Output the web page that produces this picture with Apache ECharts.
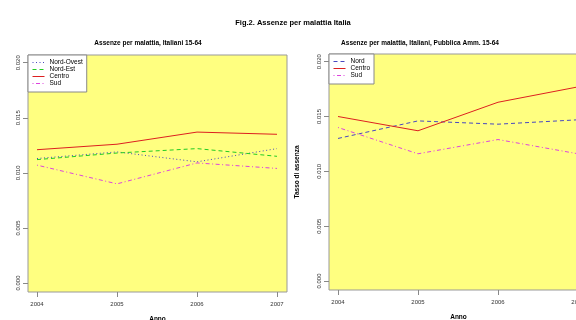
<!DOCTYPE html>
<html>
<head>
<meta charset="utf-8">
<script src="https://cdn.jsdelivr.net/npm/echarts@6/dist/echarts.min.js"></script>
<style>html,body{margin:0;padding:0;background:#fff}#c{width:576px;height:320px}</style>
</head>
<body>
<div id="c"></div>
<script>
const years = [2004, 2005, 2006, 2007];
const yTicks = [0, 0.005, 0.010, 0.015, 0.020];
// Left panel: Italiani 15-64
const nordOvest = [0.0113, 0.0119, 0.0110, 0.0122];
const nordEst   = [0.0112, 0.0118, 0.0122, 0.0115];
const centroL   = [0.0121, 0.0126, 0.0137, 0.0135];
const sudL      = [0.0107, 0.0090, 0.0109, 0.0104];
// Right panel: Pubblica Amm. 15-64
const nordR   = [0.0130, 0.0146, 0.0143, 0.0147];
const centroR = [0.0150, 0.0137, 0.0163, 0.0177];
const sudR    = [0.0140, 0.0116, 0.0129, 0.0116];

const pairs = arr => years.map((y, i) => [y, arr[i]]);
const FONT = 'Liberation Sans, Arial, sans-serif';
const gridBase = {show: true, backgroundColor: '#FFFF80', borderColor: '#999', borderWidth: 1,
  containLabel: false, outerBoundsMode: 'none'};

function xAxis(idx) {
  return {
    type: 'value', gridIndex: idx, min: 2003.8875, max: 2007.125,
    name: 'Anno', nameLocation: 'middle', nameGap: 24,
    nameTextStyle: {fontFamily: FONT, fontSize: 6.5, fontWeight: 'bold', color: '#000'},
    splitLine: {show: false}, axisLine: {show: false, onZero: false},
    axisTick: {show: true, inside: false, length: 5, lineStyle: {color: '#888'}, customValues: years},
    axisLabel: {fontFamily: FONT, fontSize: 6, color: '#333', margin: 9, customValues: years,
      formatter: v => String(v)}
  };
}
function yAxis(idx, withName) {
  const a = {
    type: 'value', gridIndex: idx, min: -0.00082, max: 0.0207,
    splitLine: {show: false}, axisLine: {show: false, onZero: false},
    axisTick: {show: true, inside: false, length: 5, lineStyle: {color: '#888'}, customValues: yTicks},
    axisLabel: {fontFamily: FONT, fontSize: 6, color: '#333', margin: 7, rotate: 90,
      customValues: yTicks, formatter: v => v.toFixed(3)}
  };
  if (withName) {
    a.name = 'Tasso di assenza';
    a.nameLocation = 'middle';
    a.nameGap = 28;
    a.nameRotate = 90;
    a.nameTextStyle = {fontFamily: FONT, fontSize: 6.5, fontWeight: 'bold', color: '#000'};
  }
  return a;
}
function line(name, data, color, type, idx) {
  return {
    type: 'line', name: name, data: pairs(data), xAxisIndex: idx, yAxisIndex: idx,
    symbol: 'none', animation: false, silent: true,
    lineStyle: {color: color, width: 1, type: type}, itemStyle: {color: color}
  };
}
const C_BLUE = '#4848c0', C_GREEN = '#22cc22', C_RED = '#dd2020', C_MAG = '#dd44dd';
const DOT = [1, 2.5], DASH = [4, 3], DOTDASH = [1, 2.5, 4, 2.5];

const legendBase = {
  orient: 'vertical', backgroundColor: '#fff', borderColor: '#888', borderWidth: 1,
  borderRadius: 0, padding: [4, 4, 5, 4], itemWidth: 12, itemHeight: 7, itemGap: 0,
  itemStyle: {opacity: 0}, lineStyle: {width: 1},
  textStyle: {fontFamily: FONT, fontSize: 6.5, color: '#000', padding: [0, 0, 0, 0]},
  selectedMode: false
};

const chart = echarts.init(document.getElementById('c'), null, {renderer: 'canvas'});
chart.setOption({
  animation: false,
  title: [
    {text: 'Fig.2. Assenze per malattia Italia', left: 288, textAlign: 'center', top: 14,
     textStyle: {fontFamily: FONT, fontSize: 7.5, fontWeight: 'bold', color: '#000'}},
    {text: 'Assenze per malattia, Italiani 15-64', left: 143, textAlign: 'center', top: 35,
     textStyle: {fontFamily: FONT, fontSize: 6.5, fontWeight: 'bold', color: '#000'}},
    {text: 'Assenze per malattia, Italiani, Pubblica Amm. 15-64', left: 415, textAlign: 'center', top: 35,
     textStyle: {fontFamily: FONT, fontSize: 6.5, fontWeight: 'bold', color: '#000'}}
  ],
  grid: [
    Object.assign({left: 28, top: 55, width: 259, height: 237}, gridBase),
    Object.assign({left: 329, top: 54, width: 259, height: 236}, gridBase)
  ],
  xAxis: [xAxis(0), xAxis(1)],
  yAxis: [yAxis(0, false), yAxis(1, true)],
  legend: [
    Object.assign({left: 28, top: 55, data: ['Nord-Ovest', 'Nord-Est', 'Centro', 'Sud']}, legendBase),
    Object.assign({left: 329, top: 54, data: ['Nord', 'Centro', 'Sud']}, legendBase)
  ],
  series: [
    line('Nord-Ovest', nordOvest, C_BLUE, DOT, 0),
    line('Nord-Est', nordEst, C_GREEN, DASH, 0),
    line('Centro', centroL, C_RED, 'solid', 0),
    line('Sud', sudL, C_MAG, DOTDASH, 0),
    line('Nord', nordR, C_BLUE, DASH, 1),
    line('Centro', centroR, C_RED, 'solid', 1),
    line('Sud', sudR, C_MAG, DOTDASH, 1)
  ]
});
</script>
</body>
</html>
